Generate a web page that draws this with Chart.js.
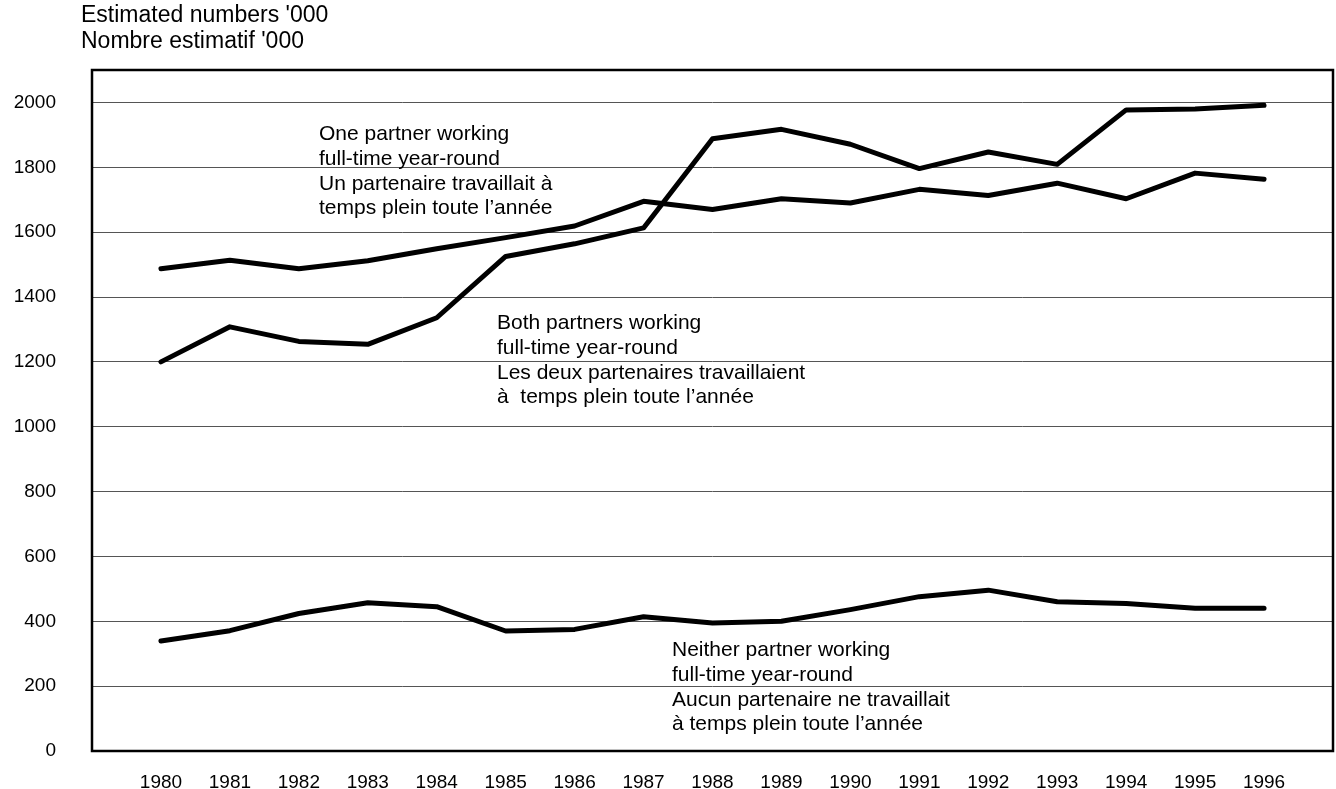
<!DOCTYPE html>
<html>
<head>
<meta charset="utf-8">
<script src="https://cdn.jsdelivr.net/npm/chart.js@4/dist/chart.umd.min.js"></script>
<style>
  html, body { margin: 0; padding: 0; background: #fff; }
  #wrap { width: 1336px; height: 789px; position: relative; }
</style>
</head>
<body>
<div id="wrap"><canvas id="grafico"></canvas></div>
<script>
// --- dados ---
const anos = [1980, 1981, 1982, 1983, 1984, 1985, 1986, 1987, 1988, 1989, 1990, 1991, 1992, 1993, 1994, 1995, 1996];
const umParceiro = [1487, 1513, 1487, 1512, 1549, 1583, 1619, 1695, 1670, 1703, 1690, 1732, 1713, 1751, 1703, 1782, 1763];
const ambosParceiros = [1200, 1308, 1263, 1254, 1336, 1525, 1564, 1613, 1888, 1917, 1871, 1796, 1847, 1809, 1977, 1980, 1991];
const nenhumParceiro = [339, 371, 424, 457, 445, 370, 375, 414, 395, 400, 436, 476, 496, 460, 455, 440, 440];
const ticksY = [0, 200, 400, 600, 800, 1000, 1200, 1400, 1600, 1800, 2000];

const tituloEixo = ["Estimated numbers '000", "Nombre estimatif '000"];
const notas = [
  { x: 319, y: 140, linhas: ["One partner working", "full-time year-round", "Un partenaire travaillait à", "temps plein toute l’année"] },
  { x: 497, y: 329, linhas: ["Both partners working", "full-time year-round", "Les deux partenaires travaillaient", "à  temps plein toute l’année"] },
  { x: 672, y: 656, linhas: ["Neither partner working", "full-time year-round", "Aucun partenaire ne travaillait", "à temps plein toute l’année"] }
];

const FONTE = "'Liberation Sans', Arial, sans-serif";
const pontos = (vals) => anos.map((a, i) => ({ x: a, y: vals[i] }));

function serie(nome, vals) {
  return {
    label: nome,
    data: pontos(vals),
    borderColor: '#000',
    borderWidth: 5,
    borderCapStyle: 'round',
    borderJoinStyle: 'round',
    pointRadius: 0,
    tension: 0,
    fill: false
  };
}

// caixa + textos
const extras = {
  id: 'extras',
  afterDraw(chart) {
    const { ctx, chartArea: a } = chart;
    ctx.save();
    ctx.strokeStyle = '#000';
    ctx.lineWidth = 2.5;
    ctx.strokeRect(a.left, a.top, a.right - a.left, a.bottom - a.top);

    ctx.fillStyle = '#000';
    ctx.textBaseline = 'alphabetic';
    ctx.textAlign = 'left';
    ctx.font = `23px ${FONTE}`;
    ctx.fillText(tituloEixo[0], 81, 22);
    ctx.fillText(tituloEixo[1], 81, 48);

    ctx.font = `21px ${FONTE}`;
    notas.forEach(n => {
      n.linhas.forEach((l, i) => ctx.fillText(l, n.x, n.y + i * 24.8));
    });
    ctx.restore();
  }
};

new Chart(document.getElementById('grafico'), {
  type: 'line',
  data: {
    datasets: [
      serie('One partner working full-time year-round', umParceiro),
      serie('Both partners working full-time year-round', ambosParceiros),
      serie('Neither partner working full-time year-round', nenhumParceiro)
    ]
  },
  options: {
    responsive: true,
    maintainAspectRatio: false,
    animation: false,
    layout: { padding: { top: 70, right: 3, left: 0, bottom: 0 } },
    plugins: {
      legend: { display: false },
      tooltip: { enabled: false }
    },
    scales: {
      x: {
        type: 'linear',
        min: 1979,
        max: 1997,
        grid: { display: false, drawTicks: false },
        border: { display: false },
        ticks: {
          stepSize: 1,
          autoSkip: false,
          maxRotation: 0,
          padding: 20,
          color: '#000',
          font: { family: FONTE, size: 19 },
          callback: v => anos.includes(v) ? String(v) : ''
        },
        afterFit: s => { s.height = 38; s.paddingLeft = 0; s.paddingRight = 0; }
      },
      y: {
        min: 0,
        max: 2100,
        grid: { color: '#555', lineWidth: 1, drawTicks: false },
        border: { display: false },
        ticks: {
          stepSize: 200,
          padding: 36,
          color: '#000',
          font: { family: FONTE, size: 19 },
          callback: v => String(v)
        },
        afterBuildTicks: s => { s.ticks = ticksY.map(v => ({ value: v })); },
        afterFit: s => { s.width = 92; s.paddingTop = 0; s.paddingBottom = 0; }
      }
    }
  },
  plugins: [extras]
});
</script>
</body>
</html>
